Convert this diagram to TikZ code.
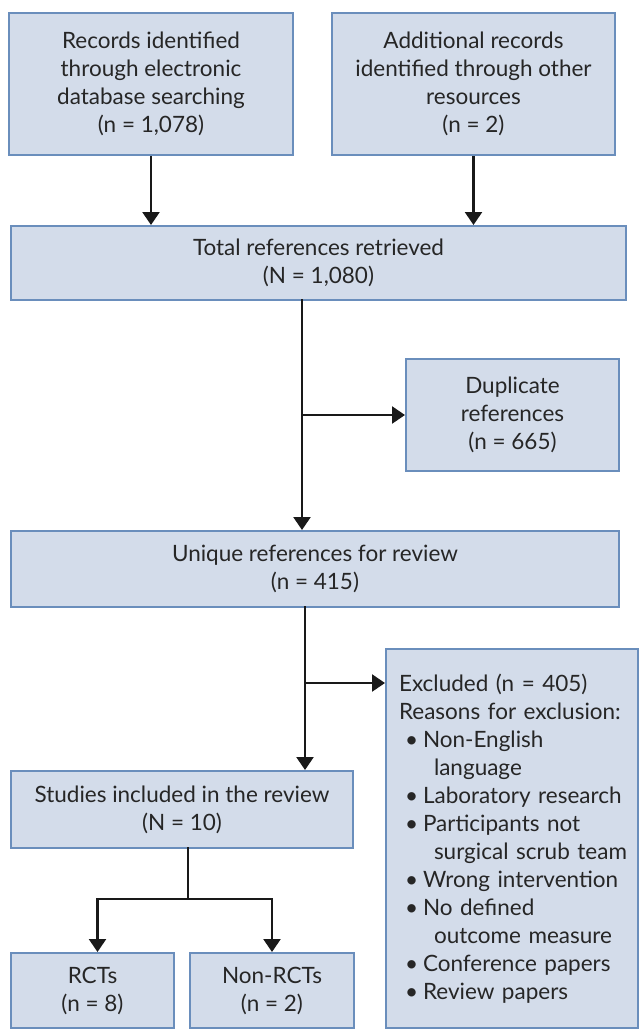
\documentclass[tikz,border=0pt]{standalone}
\usepackage{fontspec}
\setmainfont{Lato}
\usetikzlibrary{arrows.meta}
\definecolor{boxfill}{RGB}{211,220,234}
\definecolor{boxline}{RGB}{106,142,188}
\definecolor{arrcol}{RGB}{25,25,25}
\newcommand{\bul}[1]{\hspace*{13pt}\makebox[18pt][l]{•}#1}
\newcommand{\cont}[1]{\hspace*{42pt}#1}
\begin{document}
\begin{tikzpicture}[x=1pt,y=-1pt,
  box/.style={draw=boxline, fill=boxfill, line width=2pt, anchor=north west,
    inner sep=0pt, align=center, font=\fontsize{22.5}{28}\selectfont, text=black!85},
  arr/.style={draw=arrcol, line width=2.4pt, -{Triangle[width=17pt,length=13pt]}},
  ln/.style={draw=arrcol, line width=2.4pt}]
\useasboundingbox (0,0) rectangle (640,1029);
\fill[white] (0,0) rectangle (640,1029);

\node[box, minimum width=284pt, minimum height=142pt] (b1) at (8,12)
  {Records identified\\through electronic\\database searching\\(n = 1,078)};
\node[box, minimum width=283pt, minimum height=142pt] (b2) at (331,12)
  {Additional records\\identified through other\\resources\\(n = 2)};
\node[box, minimum width=615pt, minimum height=74pt] (b3) at (10,225)
  {Total references retrieved\\(N = 1,080)};
\node[box, minimum width=213pt, minimum height=112pt] (dup) at (405,358)
  {Duplicate\\references\\(n = 665)};
\node[box, minimum width=608pt, minimum height=76pt] (b4) at (10,530)
  {Unique references for review\\(n = 415)};
\node[box, minimum width=342pt, minimum height=77pt] (b5) at (10,770)
  {Studies included in the review\\(N = 10)};
\node[box, minimum width=252pt, minimum height=379pt, align=left, text width=240pt] (ex) at (385,648)
  {\hspace*{7pt}Excluded (n = 405)\\
   \hspace*{7pt}Reasons for exclusion:\\
   \bul{Non-English}\\
   \cont{language}\\
   \bul{Laboratory research}\\
   \bul{Participants not}\\
   \cont{surgical scrub team}\\
   \bul{Wrong intervention}\\
   \bul{No defined}\\
   \cont{outcome measure}\\
   \bul{Conference papers}\\
   \bul{Review papers}};
\node[box, minimum width=163pt, minimum height=75pt] (rct) at (10,952)
  {RCTs\\(n = 8)};
\node[box, minimum width=164pt, minimum height=75pt] (nrct) at (189,952)
  {Non-RCTs\\(n = 2)};

\draw[arr] (b1.south) -- (b1.south |- b3.north);
\draw[arr] (b2.south) -- (b2.south |- b3.north);

\coordinate (s1) at (302,299);
\draw[arr] (s1) -- (s1 |- b4.north);
\draw[arr] (s1 |- dup.west) -- (dup.west);

\coordinate (s2) at (305,606);
\coordinate (s3) at (305,683);
\draw[arr] (s2) -- (s2 |- b5.north);
\draw[arr] (s3) -- (s3 -| ex.west);

\coordinate (s4) at (188,847);
\coordinate (j) at (188,899);
\draw[ln] (s4) -- (j);
\draw[arr] (j) -| ([xshift=5pt]rct.north);
\draw[arr] (j) -| (nrct.north);
\end{tikzpicture}
\end{document}
